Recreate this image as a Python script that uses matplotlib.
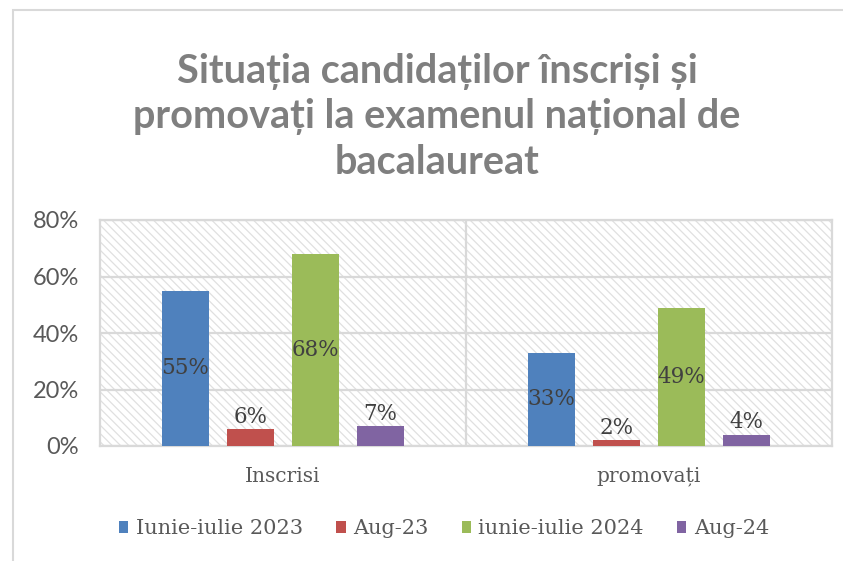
import matplotlib
matplotlib.use("Agg")
import matplotlib.pyplot as plt
from matplotlib.patches import Rectangle
import numpy as np

categories = ["Inscrisi", "promovați"]
series_names = ["Iunie-iulie 2023", "Aug-23", "iunie-iulie 2024", "Aug-24"]
values = {
    "Iunie-iulie 2023": [55, 33],
    "Aug-23": [6, 2],
    "iunie-iulie 2024": [68, 49],
    "Aug-24": [7, 4],
}
colors = ["#4F81BD", "#C0504D", "#9BBB59", "#8064A2"]
yticks = [0, 20, 40, 60, 80]
title = "Situația candidaților înscriși și\npromovați la examenul național de\nbacalaureat"

plt.rcParams['hatch.color'] = '#E0E0E0'
plt.rcParams['hatch.linewidth'] = 0.9

serif = ["DejaVu Serif", "Liberation Serif"]
sans = ["Lato", "DejaVu Sans"]

fig = plt.figure(figsize=(8.43, 5.61), dpi=100)
# outer chart border
fig.patches.append(Rectangle((13/843, -0.1), 1.0, 1 - 10/561 + 0.1, transform=fig.transFigure,
                             fill=False, edgecolor="#D9D9D9", linewidth=1.5))

ax = fig.add_axes([100/843, 1 - 446/561, 732/843, 226/561])
ax.set_xlim(-0.5, 1.5)
ax.set_ylim(0, 80)

# hatched background
ax.add_patch(Rectangle((0, 0), 1, 1, transform=ax.transAxes, facecolor="white",
                       edgecolor="#E0E0E0", hatch="\\\\\\\\", linewidth=0, zorder=0))

for y in yticks:
    ax.axhline(y, color="#D9D9D9", linewidth=1.6, zorder=1)
ax.axvline(0.5, color="#D9D9D9", linewidth=1.6, zorder=1)
for s in ax.spines.values():
    s.set_color("#D9D9D9")
    s.set_linewidth(1.6)

x = np.arange(len(categories))
width = 0.1257
step = 0.1776
offsets = (np.arange(4) - 1.5) * step
for i, name in enumerate(series_names):
    vals = values[name]
    bars = ax.bar(x + offsets[i], vals, width, color=colors[i], label=name, zorder=3)
    for b, v in zip(bars, vals):
        cx = b.get_x() + b.get_width() / 2
        if v > 10:
            ax.text(cx, v / 2, f"{v}%", ha="center", va="center", fontsize=15.5,
                    color="#404040", family=serif, zorder=4)
        else:
            ax.text(cx, v + 0.5, f"{v}%", ha="center", va="bottom", fontsize=15.5,
                    color="#404040", family=serif, zorder=4)

ax.set_yticks(yticks)
ax.set_yticklabels([f"{t}%" for t in yticks], fontsize=17, color="#595959", family=sans)
ax.set_xticks(x)
ax.set_xticklabels(categories, fontsize=14.5, color="#595959", family=serif)
ax.tick_params(axis="both", length=0)
ax.tick_params(axis="y", pad=15)
ax.tick_params(axis="x", pad=15)

fig.text(437/843, 1 - 117/561, title, ha="center", va="center", fontsize=28.5,
         fontweight="bold", color="#7F7F7F", family=sans, linespacing=1.28)

leg = fig.legend(loc="center", bbox_to_anchor=(444/843, 1 - 529/561), ncol=4, frameon=False,
                 prop={"family": serif, "size": 15}, handlelength=0.45, handleheight=0.45,
                 handletextpad=0.35, columnspacing=1.6)
for t in leg.get_texts():
    t.set_color("#595959")

fig.savefig("out.png", dpi=100)
